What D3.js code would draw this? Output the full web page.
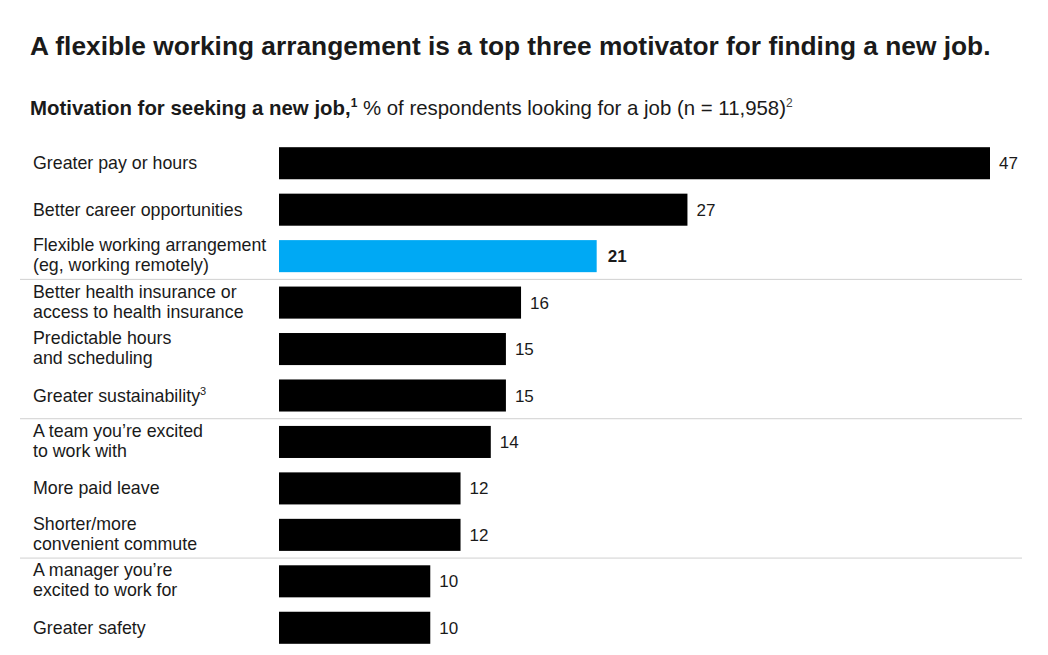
<!DOCTYPE html>
<html>
<head>
<meta charset="utf-8">
<script src="https://cdn.jsdelivr.net/npm/d3@7"></script>
<style>
  body { margin: 0; background: #fff; }
  svg text { font-family: "Liberation Sans", Arial, sans-serif; fill: #1a1a1a; }
</style>
</head>
<body>
<div id="chart"></div>
<script>
// chart data
const LABELS = [
  ["Greater pay or hours"],
  ["Better career opportunities"],
  ["Flexible working arrangement", "(eg, working remotely)"],
  ["Better health insurance or", "access to health insurance"],
  ["Predictable hours", "and scheduling"],
  ["Greater sustainability"],
  ["A team you\u2019re excited", "to work with"],
  ["More paid leave"],
  ["Shorter/more", "convenient commute"],
  ["A manager you\u2019re", "excited to work for"],
  ["Greater safety"]
];
const VALUES = [47, 27, 21, 16, 15, 15, 14, 12, 12, 10, 10];
const HIGHLIGHT = 2;          // index of the blue bar
const LABEL_NOTES = {5: "3"}; // superscript footnotes on labels
const GROUP_BREAKS = [2, 5, 8]; // grey line after these rows

const FRAME_WIDTH = 1048;
const FRAME_HEIGHT = 655;
const MARGINS = {left: 279, right: 58, top: 140, bottom: 4};

const FRAME = d3.select("#chart")
                .append("svg")
                  .attr("width", FRAME_WIDTH)
                  .attr("height", FRAME_HEIGHT);

// title
FRAME.append("text")
      .attr("x", 30)
      .attr("y", 55)
      .attr("font-size", 26.3)
      .attr("font-weight", "bold")
      .text("A flexible working arrangement is a top three motivator for finding a new job.");

// subtitle with superscripts
const SUB = FRAME.append("text")
                  .attr("x", 30)
                  .attr("y", 115)
                  .attr("font-size", 20.4);
SUB.append("tspan").attr("font-weight", "bold").text("Motivation for seeking a new job,");
SUB.append("tspan").attr("font-size", 12).attr("font-weight", "bold").attr("dy", -8).text("1");
SUB.append("tspan").attr("dy", 8).text(" % of respondents looking for a job (n = 11,958)");
SUB.append("tspan").attr("font-size", 12).attr("dy", -8).attr("fill", "#444").text("2");

const idx = d3.range(VALUES.length);

const X_SCALE = d3.scaleLinear()
                  .domain([0, 47])
                  .range([MARGINS.left, 990]);

const Y_SCALE = d3.scaleBand()
                  .domain(idx)
                  .range([MARGINS.top, FRAME_HEIGHT - MARGINS.bottom])
                  .paddingInner(0.31)
                  .paddingOuter(0.155);

// group separators
FRAME.selectAll(".sep")
      .data(GROUP_BREAKS)
      .enter().append("line")
        .attr("class", "sep")
        .attr("x1", 20)
        .attr("x2", 1022)
        .attr("y1", d => Y_SCALE(d) + Y_SCALE.bandwidth() + Y_SCALE.step() * 0.155)
        .attr("y2", d => Y_SCALE(d) + Y_SCALE.bandwidth() + Y_SCALE.step() * 0.155)
        .attr("stroke", "#d0d0d0")
        .attr("stroke-width", 1);

// bars
FRAME.selectAll(".bar")
      .data(idx)
      .enter().append("rect")
        .attr("class", "bar")
        .attr("x", X_SCALE(0))
        .attr("y", d => Y_SCALE(d))
        .attr("width", d => X_SCALE(VALUES[d]) - X_SCALE(0))
        .attr("height", Y_SCALE.bandwidth())
        .attr("fill", d => d === HIGHLIGHT ? "#00a9f4" : "#000");

// value labels
FRAME.selectAll(".val")
      .data(idx)
      .enter().append("text")
        .attr("class", "val")
        .attr("x", d => X_SCALE(VALUES[d]) + (d === HIGHLIGHT ? 11 : 9))
        .attr("y", d => Y_SCALE(d) + Y_SCALE.bandwidth() / 2 + 6)
        .attr("font-size", 17)
        .attr("font-weight", d => d === HIGHLIGHT ? "bold" : "normal")
        .text(d => VALUES[d]);

// category labels
const CAT = FRAME.selectAll(".cat")
                  .data(idx)
                  .enter().append("text")
                    .attr("class", "cat")
                    .attr("x", 33)
                    .attr("font-size", 17.8)
                    .attr("fill", d => d === HIGHLIGHT ? "#000" : "#222")
                    .attr("y", d => {
                      let mid = Y_SCALE(d) + Y_SCALE.bandwidth() / 2;
                      return LABELS[d].length > 1 ? mid - 5 : mid + 6;
                    });

CAT.each(function(d) {
  let el = d3.select(this);
  LABELS[d].forEach((line, i) => {
    el.append("tspan")
      .attr("x", 33)
      .attr("dy", i === 0 ? 0 : 20)
      .text(line);
  });
  if (LABEL_NOTES[d]) {
    el.append("tspan")
      .attr("font-size", 11)
      .attr("dy", -7)
      .text(LABEL_NOTES[d]);
  }
});
</script>
</body>
</html>
